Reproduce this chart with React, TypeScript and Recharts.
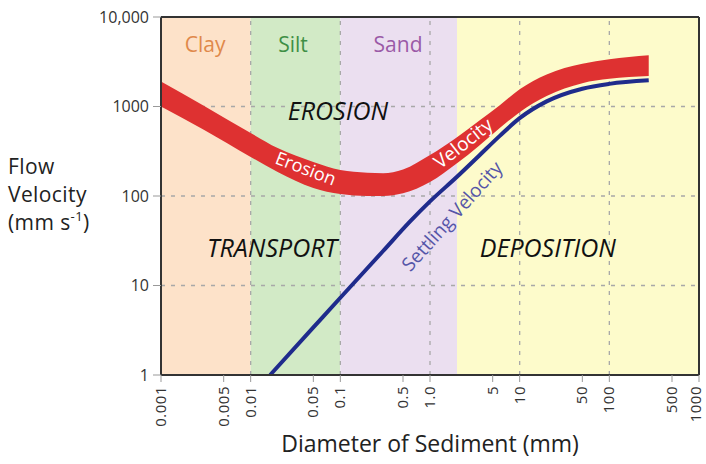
import React from 'react';
import {
  ComposedChart,
  Area,
  Line,
  XAxis,
  YAxis,
  ReferenceArea,
  ReferenceLine,
  ReferenceDot,
} from 'recharts';

// ---------- data ----------
const diameterTicks = [0.001, 0.005, 0.01, 0.05, 0.1, 0.5, 1, 5, 10, 50, 100, 500, 1000];
const diameterTickLabels = ['0.001', '0.005', '0.01', '0.05', '0.1', '0.5', '1.0', '5', '10', '50', '100', '500', '1000'];
const velocityTicks = [1, 10, 100, 1000, 10000];
const velocityTickLabels = ['1', '10', '100', '1000', '10,000'];

const gridDiameters = [0.01, 0.1, 1, 10, 100];
const gridVelocities = [10, 100, 1000];

// Erosion velocity band (lower / upper edge), mm s-1
const erosionDiameters = [0.001, 0.003, 0.01, 0.02, 0.05, 0.1, 0.2, 0.3, 0.5, 1, 2, 3.5, 6, 10, 20, 50, 100, 275];
const erosionLow = [1000, 550, 273, 185, 123, 105, 100, 100, 107, 143, 232, 363, 574, 865, 1312, 1824, 2036, 2190];
const erosionHigh = [1900, 1020, 506, 343, 240, 195, 182, 180, 198, 287, 454, 690, 1035, 1560, 2284, 3006, 3380, 3740];

// Settling velocity
const settlingDiameters = [0.0165, 0.05, 0.1, 0.3, 0.6, 1, 2, 3.5, 6, 10, 20, 50, 100, 275];
const settlingVelocity = [1, 3.4, 7.3, 24.3, 52, 87, 164, 280, 470, 740, 1140, 1580, 1790, 1960];

// Sediment classes
const zoneNames = ['Clay', 'Silt', 'Sand', ''];
const zoneFrom = [0.001, 0.01, 0.1, 2];
const zoneTo = [0.01, 0.1, 2, 1000];
const zoneLabelDiameter = [0.0031, 0.0297, 0.44];
const zoneLabelVelocity = 5000;

// Process regions
const processNames = ['EROSION', 'TRANSPORT', 'DEPOSITION'];
const processDiameter = [0.094, 0.0173, 20.6];
const processVelocity = [916, 27, 27];

// ---------- styles ----------
const FONT = "'Open Sans', 'Noto Sans', sans-serif";
const zoneFills = ['#fde2c9', '#d2eac6', '#ebdff0', '#fdfbcb'];
const zoneTextColors = ['#e0894b', '#3f8f45', '#9b5aa7'];
const RED = '#de3131';
const BLUE = '#1f2b8c';

const erosionData = erosionDiameters.map((d, i) => ({ d, band: [erosionLow[i], erosionHigh[i]] }));
const settlingData = settlingDiameters.map((d, i) => ({ d, v: settlingVelocity[i] }));

const TextLabel = (props: any) => {
  const { viewBox, text, rot = 0, color = '#111', size = 16, italic = false, weight = 400 } = props;
  const cx = viewBox.x + (viewBox.width || 0) / 2;
  const cy = viewBox.y + (viewBox.height || 0) / 2;
  return (
    <text
      x={cx}
      y={cy}
      textAnchor="middle"
      dominantBaseline="central"
      transform={`rotate(${rot} ${cx} ${cy})`}
      fill={color}
      fontSize={size}
      fontStyle={italic ? 'italic' : 'normal'}
      fontWeight={weight}
      fontFamily={FONT}
    >
      {text}
    </text>
  );
};

const XTick = (props: any) => {
  const { x, y, payload } = props;
  const idx = diameterTicks.indexOf(payload.value);
  const label = idx >= 0 ? diameterTickLabels[idx] : String(payload.value);
  const isLast = idx === diameterTicks.length - 1;
  return (
    <text
      x={x}
      y={y}
      textAnchor="end"
      dy={isLast ? '0.12em' : '0.33em'}
      transform={`rotate(-90 ${x} ${y})`}
      fill="#333"
      fontSize={15}
      letterSpacing={0.5}
      fontFamily={FONT}
    >
      {label}
    </text>
  );
};

const YTitle = (props: any) => {
  const { viewBox } = props;
  const x = 8;
  const y0 = viewBox.y;
  return (
    <text x={x} fill="#222" fontSize={21} letterSpacing={0.4} fontFamily={FONT}>
      <tspan x={x} y={y0 + 157}>Flow</tspan>
      <tspan x={x} y={y0 + 185}>Velocity</tspan>
      <tspan x={x} y={y0 + 213}>(mm s</tspan>
      <tspan fontSize={13} dy={-9}>-1</tspan>
      <tspan dy={9}>)</tspan>
    </text>
  );
};

const XTitle = (props: any) => {
  const { viewBox } = props;
  const cx = viewBox.x + viewBox.width / 2;
  return (
    <text x={cx} y={viewBox.y + 77} textAnchor="middle" fill="#222" fontSize={23} fontFamily={FONT}>
      Diameter of Sediment (mm)
    </text>
  );
};

export default function App() {
  return (
    <div style={{ position: 'absolute', left: 0, top: 0, background: '#fff' }}>
      <ComposedChart
        width={706}
        height={464}
        margin={{ top: 17, right: 7, left: 0, bottom: 0 }}
        style={{ fontFamily: FONT }}
      >
        <XAxis
          dataKey="d"
          type="number"
          scale="log"
          domain={[0.001, 1000]}
          ticks={diameterTicks}
          interval={0}
          allowDataOverflow
          height={89}
          tick={<XTick />}
          tickSize={7}
          tickMargin={4}
          tickLine={{ stroke: '#999' }}
          axisLine={{ stroke: '#333', strokeWidth: 2 }}
          label={<XTitle />}
        />
        <YAxis
          type="number"
          scale="log"
          domain={[1, 10000]}
          ticks={velocityTicks}
          interval={0}
          allowDataOverflow
          width={161}
          tickFormatter={(v: number) => {
            const i = velocityTicks.indexOf(v);
            return i >= 0 ? velocityTickLabels[i] : String(v);
          }}
          tick={{ fontSize: 16, fill: '#333', fontFamily: FONT }}
          tickSize={8}
          tickMargin={4}
          tickLine={{ stroke: '#999' }}
          axisLine={{ stroke: '#333', strokeWidth: 2 }}
          label={<YTitle />}
        />

        {zoneFrom.map((f, i) => (
          <ReferenceArea
            key={`zone-${i}`}
            x1={f}
            x2={zoneTo[i]}
            y1={1}
            y2={10000}
            fill={zoneFills[i]}
            fillOpacity={1}
            stroke="none"
            zIndex={-200}
          />
        ))}

        {gridDiameters.map((d) => (
          <ReferenceLine key={`gx-${d}`} x={d} stroke="#a8a8a8" strokeDasharray="4 6" strokeWidth={1.3} zIndex={-150} />
        ))}
        {gridVelocities.map((v) => (
          <ReferenceLine key={`gy-${v}`} y={v} stroke="#a8a8a8" strokeDasharray="4 6" strokeWidth={1.3} zIndex={-150} />
        ))}

        <Area
          data={erosionData}
          dataKey="band"
          type="monotone"
          stroke="none"
          fill={RED}
          fillOpacity={1}
          isAnimationActive={false}
          dot={false}
          activeDot={false}
        />
        <Line
          data={settlingData}
          dataKey="v"
          type="monotone"
          stroke={BLUE}
          strokeWidth={4}
          dot={false}
          activeDot={false}
          isAnimationActive={false}
        />

        <ReferenceLine y={10000} stroke="#333" strokeWidth={2} zIndex={600} />
        <ReferenceLine x={1000} stroke="#333" strokeWidth={2} zIndex={600} />

        {zoneLabelDiameter.map((d, i) => (
          <ReferenceDot
            key={`zl-${i}`}
            x={d}
            y={zoneLabelVelocity}
            r={1}
            fill="none"
            stroke="none"
            zIndex={2000}
            label={<TextLabel text={zoneNames[i]} color={zoneTextColors[i]} size={21} />}
          />
        ))}

        {processNames.map((n, i) => (
          <ReferenceDot
            key={`pl-${i}`}
            x={processDiameter[i]}
            y={processVelocity[i]}
            r={1}
            fill="none"
            stroke="none"
            zIndex={2000}
            label={<TextLabel text={n} color="#111" size={25} italic />}
          />
        ))}

        <ReferenceDot
          x={0.0414}
          y={206}
          r={1}
          fill="none"
          stroke="none"
          zIndex={2000}
          label={<TextLabel text="Erosion" color="#fff" size={18} rot={21} />}
        />
        <ReferenceDot
          x={2.33}
          y={391}
          r={1}
          fill="none"
          stroke="none"
          zIndex={2000}
          label={<TextLabel text="Velocity" color="#fff" size={19} rot={-38} />}
        />
        <ReferenceDot
          x={1.75}
          y={60}
          r={1}
          fill="none"
          stroke="none"
          zIndex={2000}
          label={<TextLabel text="Settling Velocity" color="#5555a8" size={19} rot={-48} />}
        />
      </ComposedChart>
    </div>
  );
}
